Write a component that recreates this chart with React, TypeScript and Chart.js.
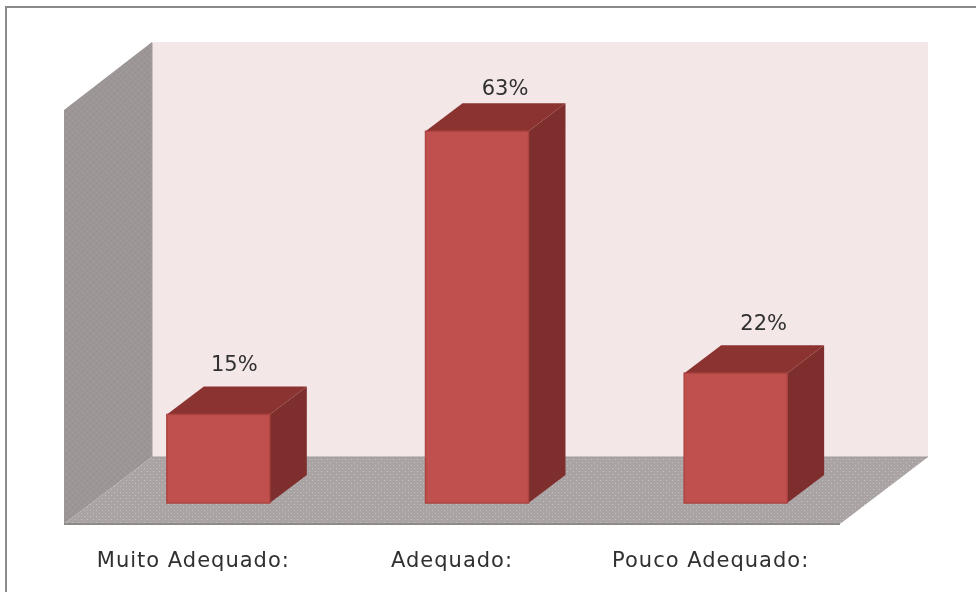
import React, { useEffect, useRef } from "react";
import { Chart, registerables } from "chart.js";

Chart.register(...registerables);

const categories = ["Muito Adequado:", "Adequado:", "Pouco Adequado:"];
const percentValues = [15, 63, 22];
const axisMax = 70;

const FONT = '"DejaVu Sans", sans-serif';
const BAR_DX = 37, BAR_DY = 28;
const FLOOR_DX = 88, FLOOR_DY = 67;
const LABEL_SHIFTS = [[16, -48.5], [28, -42], [28, -49]];

function stipple(ctx: CanvasRenderingContext2D, base: string, dot: string, dim: string) {
  const c = document.createElement("canvas");
  c.width = 6; c.height = 6;
  const g = c.getContext("2d")!;
  g.fillStyle = base; g.fillRect(0, 0, 6, 6);
  g.fillStyle = dot; g.fillRect(0, 0, 1, 1); g.fillRect(3, 3, 1, 1);
  g.fillStyle = dim; g.fillRect(3, 0, 1, 1); g.fillRect(0, 3, 1, 1);
  return ctx.createPattern(c, "repeat")!;
}

function poly(ctx: CanvasRenderingContext2D, pts: number[][], fill: any) {
  ctx.beginPath();
  pts.forEach(([x, y], i) => (i ? ctx.lineTo(x, y) : ctx.moveTo(x, y)));
  ctx.closePath();
  ctx.fillStyle = fill;
  ctx.fill();
}

const box3d = {
  id: "box3d",
  beforeDraw(chart: any) {
    chart.ctx.letterSpacing = "1px";
  },
  beforeDatasetsDraw(chart: any) {
    const { ctx, chartArea: a, scales } = chart;
    const base = scales.y.getPixelForValue(0);
    const top = scales.y.getPixelForValue(axisMax);
    const fl = a.left - 25, fr = a.right - 25, fb = base + 21, ft = top + 20;
    ctx.save();
    // outer frame, top and left only
    ctx.fillStyle = "#8a8a8a";
    ctx.fillRect(5, 6, chart.width - 5, 2);
    ctx.fillRect(5, 6, 2, chart.height - 6);
    // back wall
    poly(ctx, [[fl + FLOOR_DX, ft - FLOOR_DY - 1], [fr + FLOOR_DX, ft - FLOOR_DY - 1], [fr + FLOOR_DX, fb - FLOOR_DY], [fl + FLOOR_DX, fb - FLOOR_DY]], "#f3e7e7");
    // left wall
    poly(ctx, [[fl, ft], [fl + FLOOR_DX, ft - FLOOR_DY - 1], [fl + FLOOR_DX, fb - FLOOR_DY], [fl, fb]], stipple(ctx, "#9d9696", "#a5a0a0", "#938c8c"));
    // floor
    poly(ctx, [[fl, fb], [fl + FLOOR_DX, fb - FLOOR_DY], [fr + FLOOR_DX, fb - FLOOR_DY], [fr, fb]], stipple(ctx, "#aaa3a3", "#c8c2c2", "#b5a9a9"));
    ctx.strokeStyle = "#8f8a8a";
    ctx.lineWidth = 2;
    ctx.beginPath(); ctx.moveTo(fl, fb); ctx.lineTo(fr, fb); ctx.stroke();
    ctx.lineWidth = 1;
    ctx.strokeStyle = "#a39c9c";
    ctx.beginPath();
    ctx.moveTo(fl + FLOOR_DX, fb - FLOOR_DY); ctx.lineTo(fr + FLOOR_DX, fb - FLOOR_DY);
    ctx.moveTo(fl + FLOOR_DX, ft - FLOOR_DY); ctx.lineTo(fl + FLOOR_DX, fb - FLOOR_DY);
    ctx.stroke();
    ctx.restore();
  },
  afterDatasetsDraw(chart: any) {
    const { ctx } = chart;
    const meta = chart.getDatasetMeta(0);
    ctx.save();
    meta.data.forEach((bar: any, i: number) => {
      const { x, y, base, width } = bar.getProps(["x", "y", "base", "width"], true);
      const l = x - width / 2, r = x + width / 2;
      poly(ctx, [[r, y], [r + BAR_DX, y - BAR_DY], [r + BAR_DX, base - BAR_DY], [r, base]], "#7e2f2d");
      poly(ctx, [[l, y], [l + BAR_DX, y - BAR_DY], [r + BAR_DX, y - BAR_DY], [r, y]], "#8b3331");
      ctx.strokeStyle = "#ad4441";
      ctx.lineWidth = 1.5;
      ctx.strokeRect(l, y, width, base - y);
      ctx.letterSpacing = "0px";
      ctx.font = `21px ${FONT}`;
      ctx.fillStyle = "#303030";
      ctx.textAlign = "center";
      ctx.textBaseline = "middle";
      const [sx, sy] = LABEL_SHIFTS[i];
      ctx.fillText(`${percentValues[i]}%`, x + sx, y + sy);
    });
    ctx.restore();
  },
};

export default function App() {
  const ref = useRef<HTMLCanvasElement>(null);
  useEffect(() => {
    const chart = new Chart(ref.current!, {
      type: "bar",
      data: {
        labels: categories,
        datasets: [{
          data: percentValues,
          backgroundColor: "#c0504d",
          borderWidth: 0,
          barPercentage: 0.398,
          categoryPercentage: 1,
        }],
      },
      options: {
        animation: false,
        responsive: false,
        layout: { padding: { left: 89, right: 111, top: 90, bottom: 20 } },
        plugins: { legend: { display: false }, tooltip: { enabled: false } },
        scales: {
          x: {
            grid: { display: false, drawTicks: false },
            border: { display: false },
            afterFit(scale: any) { scale.height = 69; },
            ticks: {
              font: { family: FONT, size: 21 },
              color: "#303030",
              padding: 46,
              labelOffset: -25,
              maxRotation: 0,
              autoSkip: false,
            },
          },
          y: { display: false, min: 0, max: axisMax },
        },
      },
      plugins: [box3d],
    } as any);
    return () => chart.destroy();
  }, []);
  return (
    <canvas
      ref={ref}
      width={976}
      height={592}
      style={{ position: "absolute", left: 0, top: 0, width: 976, height: 592, filter: "blur(0.5px)" }}
    />
  );
}
